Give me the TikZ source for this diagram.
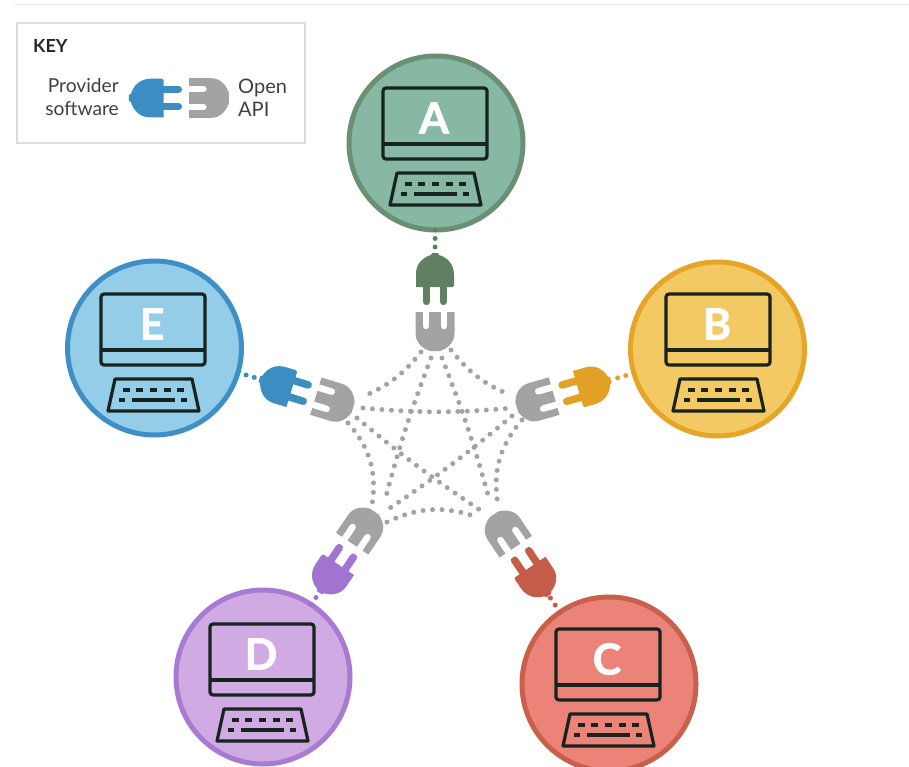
\documentclass[tikz,border=0pt]{standalone}
\usepackage{fontspec}
\setmainfont{Lato}
\definecolor{sockgrey}{HTML}{A3A3A3}
\definecolor{keyline}{HTML}{DCDCDC}
\definecolor{inkdark}{HTML}{17231F}
\definecolor{Afill}{HTML}{86B8A3}\definecolor{Aline}{HTML}{6A8F73}\definecolor{Aplug}{HTML}{5F8061}
\definecolor{Bfill}{HTML}{F3C964}\definecolor{Bline}{HTML}{E5A526}\definecolor{Bplug}{HTML}{E2A027}
\definecolor{Cfill}{HTML}{EC8379}\definecolor{Cline}{HTML}{C9604C}\definecolor{Cplug}{HTML}{C45C48}
\definecolor{Dfill}{HTML}{CFAAE3}\definecolor{Dline}{HTML}{A87BD3}\definecolor{Dplug}{HTML}{A074D0}
\definecolor{Efill}{HTML}{93CDE8}\definecolor{Eline}{HTML}{3D8FC5}\definecolor{Eplug}{HTML}{3B8DC2}
\tikzset{
  x=1pt,y=-1pt,
  dotline/.style={line width=5pt,line cap=round,dash pattern=on 0pt off 9.5pt,draw=sockgrey},
  stubline/.style={line width=5pt,line cap=round,dash pattern=on 0pt off 8.5pt},
  station/.style={circle,minimum size=174pt,inner sep=0pt,outer sep=0pt,line width=5pt},
  keytext/.style={font=\fontsize{19.2}{23}\selectfont,text=black!75,inner sep=0pt},
  pics/plugpart/.style={code={
    \fill[#1] (-19,-21) [rounded corners=1.5pt] -- (-19,-33) [sharp corners]
      .. controls (-19,-45) and (-11,-51) .. (-4,-53) -- (-3,-55) -- (3,-55) -- (4,-53)
      .. controls (11,-51) and (19,-45) .. (19,-33) [rounded corners=1.5pt] -- (19,-21) [sharp corners] -- cycle;
    \draw[#1,line width=7.5pt,line cap=round] (-8.5,-21) -- (-8.5,-6.5) (8.5,-21) -- (8.5,-6.5);
    \coordinate (-tip) at (0,-56);
  }},
  pics/socketpart/.style={code={
    \fill[sockgrey] (-19.5,4) -- (19.5,4) -- (19.5,25)
      .. controls (19.5,36) and (11,41) .. (5,43) -- (-5,43) .. controls (-11,41) and (-19.5,36) .. (-19.5,25) -- cycle;
    \draw[white,line width=6.5pt,line cap=round] (-9,0) -- (-9,18) (9,0) -- (9,18);
  }},
  pics/computer/.style={code={
    \draw[inkdark,line width=3.2pt,rounded corners=3pt] (-53,-55) rectangle (51,16);
    \draw[inkdark,line width=3.2pt] (-53,1) -- (51,1);
    \draw[inkdark,line width=3.2pt,line join=round] (-39,30) -- (38,30) -- (45,62) -- (-46,62) -- cycle;
    \draw[inkdark,line width=3.6pt]
      (-31,41) -- (-24,41) (-18,41) -- (-11,41) (-4,41) -- (3,41) (10,41) -- (17,41) (23,41) -- (30,41)
      (-35,51) -- (-29,51) (-22,51) -- (21,51) (27,51) -- (33,51);
    \node[text=white,inner sep=0pt,font=\fontsize{43}{43}\bfseries\selectfont\addfontfeature{FakeBold=1.5}] (-letter) at (-2,-25) {#1};
  }},
}
\begin{document}
\begin{tikzpicture}
\useasboundingbox (0,0) rectangle (909,767);
\clip (0,0) rectangle (909,767);
\draw[draw=black!7,line width=1pt] (13,5) -- (909,5);

% key
\node[draw=keyline,line width=1.5pt,minimum width=288pt,minimum height=120pt,inner sep=0pt,outer sep=0pt] (keybox) at (161,83) {};
\node[anchor=west,inner sep=0pt,font=\fontsize{18}{18}\bfseries\selectfont,text=black!85] (keytitle) at (33,46) {KEY};
\node[keytext,anchor=east,align=right] (keyprov) at (119,97) {Provider\\software};
\node[keytext,anchor=west,align=left,font=\fontsize{20}{23}\selectfont] (keyopen) at (238,98) {Open\\API};
\pic[rotate=90,scale=1.02] (keyplug) at (185,98) {plugpart=Eplug};
\pic[rotate=90,scale=1.02] (keysock) at (185,98) {socketpart};

% stations
\node[station,draw=Aline,fill=Afill] (A) at (436,143) {};
\node[station,draw=Bline,fill=Bfill] (B) at (717.5,349) {};
\node[station,draw=Cline,fill=Cfill] (C) at (609,684) {};
\node[station,draw=Dline,fill=Dfill] (D) at (263,677) {};
\node[station,draw=Eline,fill=Efill] (E) at (154.5,348) {};
\pic (cA) at (436,143) {computer=A};
\pic (cB) at (719,349) {computer=B};
\pic (cC) at (609,684) {computer=C};
\pic (cD) at (263,679) {computer=D};
\pic (cE) at (154,349) {computer=E};

% plugs and sockets
\pic[rotate=0] (pA) at (435,308) {plugpart=Aplug};
\pic[rotate=0] (sA) at (435,308) {socketpart};
\pic[rotate=-74] (pB) at (558,395) {plugpart=Bplug};
\pic[rotate=-74] (sB) at (558,395) {socketpart};
\pic[rotate=-146] (pC) at (518,550) {plugpart=Cplug};
\pic[rotate=-146] (sC) at (518,550) {socketpart};
\pic[rotate=146] (pD) at (350,547) {plugpart=Dplug};
\pic[rotate=146] (sD) at (350,547) {socketpart};
\pic[rotate=73] (pE) at (312,395) {plugpart=Eplug};
\pic[rotate=73] (sE) at (312,395) {socketpart};

% stubs
\draw[stubline,draw=Aplug] (A) -- (pA-tip);
\draw[stubline,draw=Bplug] (B) -- (pB-tip);
\draw[stubline,draw=Cplug] (C) -- (pC-tip);
\draw[stubline,draw=Dplug] (D) -- (pD-tip);
\draw[stubline,draw=Eplug] (E) -- (pE-tip);

% mesh end points
\coordinate (aE) at (421,352); \coordinate (aD) at (431,358);
\coordinate (aC) at (442,358); \coordinate (aB) at (451,350);
\coordinate (bA) at (510,395); \coordinate (bE) at (512,408);
\coordinate (bD) at (512,416); \coordinate (bC) at (522,420);
\coordinate (cA2) at (490,502); \coordinate (cE2) at (480,510);
\coordinate (cD2) at (477,517); \coordinate (cB2) at (498,505);
\coordinate (dA) at (385,500); \coordinate (dE) at (372,505);
\coordinate (dB) at (387,510); \coordinate (dC) at (387,522);
\coordinate (eA) at (362,397); \coordinate (eB) at (363,408);
\coordinate (eC) at (357,418); \coordinate (eD) at (348,423);

% mesh
\draw[dotline] (aE) to[bend left=14] (eA);
\draw[dotline] (aB) to[bend right=14] (bA);
\draw[dotline] (aD) to[bend right=3] (dA);
\draw[dotline] (aC) to[bend left=3] (cA2);
\draw[dotline] (eB) to[bend right=5] (bE);
\draw[dotline] (eC) to[bend right=3] (cE2);
\draw[dotline] (bD) to[bend left=3] (dB);
\draw[dotline] (eD) to[bend left=25] (dE);
\draw[dotline] (bC) to[bend right=25] (cB2);
\draw[dotline] (dC) to[bend left=22] (cD2);
\end{tikzpicture}
\end{document}
